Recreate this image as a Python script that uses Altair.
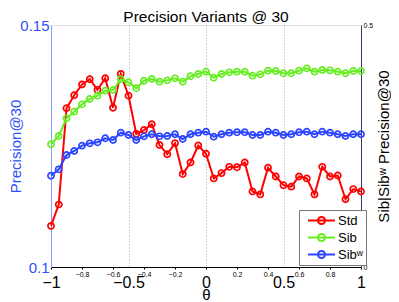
import altair as alt
import pandas as pd

theta = [-1.0, -0.95, -0.9, -0.85, -0.8, -0.75, -0.7, -0.65, -0.6, -0.55, -0.5,
         -0.45, -0.4, -0.35, -0.3, -0.25, -0.2, -0.15, -0.1, -0.05, 0.0,
         0.05, 0.1, 0.15, 0.2, 0.25, 0.3, 0.35, 0.4, 0.45, 0.5,
         0.55, 0.6, 0.65, 0.7, 0.75, 0.8, 0.85, 0.9, 0.95, 1.0]

std = [0.1085, 0.1129, 0.1328, 0.1355, 0.1377, 0.1388, 0.1366, 0.1390, 0.1329, 0.1399,
       0.1354, 0.1275, 0.1283, 0.1295, 0.1252, 0.1233, 0.1256, 0.1192, 0.1216, 0.1251,
       0.1234, 0.1183, 0.1194, 0.1207, 0.1206, 0.1216, 0.1156, 0.1150, 0.1205, 0.1187,
       0.1169, 0.1166, 0.1187, 0.1183, 0.1150, 0.1207, 0.1187, 0.1189, 0.1140, 0.1161,
       0.1156]

sib = [0.2535, 0.2707, 0.3072, 0.3209, 0.3361, 0.3471, 0.3540, 0.3643, 0.3657, 0.3878,
       0.3816, 0.3692, 0.3849, 0.3884, 0.3829, 0.3857, 0.3898, 0.3829, 0.3940, 0.3988,
       0.4036, 0.3912, 0.3988, 0.4022, 0.4036, 0.4036, 0.3953, 0.3981, 0.4056, 0.4050,
       0.4002, 0.4002, 0.4056, 0.4105, 0.4036, 0.4070, 0.4063, 0.4036, 0.4002, 0.4050,
       0.4050]

sibw = [0.1886, 0.2018, 0.2314, 0.2397, 0.2507, 0.2555, 0.2576, 0.2659, 0.2624, 0.2775,
        0.2727, 0.2624, 0.2700, 0.2742, 0.2700, 0.2707, 0.2742, 0.2645, 0.2742, 0.2775,
        0.2796, 0.2693, 0.2742, 0.2775, 0.2783, 0.2783, 0.2727, 0.2727, 0.2796, 0.2775,
        0.2727, 0.2742, 0.2783, 0.2796, 0.2742, 0.2796, 0.2775, 0.2742, 0.2707, 0.2742,
        0.2742]

series_names = ["Std", "Sib", "Sib\u02b7"]
series_colors = ["#ff0000", "#66ee22", "#2b44ff"]
major_ticks = [-1, -0.5, 0, 0.5, 1]
minor_ticks = [-1, -0.8, -0.6, -0.4, -0.2, 0, 0.2, 0.4, 0.6, 0.8, 1]
left_ticks = [0.1, 0.15]
right_ticks = [0, 0.5]

df_std = pd.DataFrame({"theta": theta, "value": std, "series": series_names[0]})
df_sib = pd.concat([
    pd.DataFrame({"theta": theta, "value": sib, "series": series_names[1]}),
    pd.DataFrame({"theta": theta, "value": sibw, "series": series_names[2]}),
])

FONT = "Liberation Sans"
BLUE = "#3050f8"

color = alt.Color(
    "series:N",
    scale=alt.Scale(domain=series_names, range=series_colors),
    legend=alt.Legend(
        title=None, orient="none", legendX=248, legendY=185,
        strokeColor="#777777", fillColor="white", padding=2, cornerRadius=0,
        symbolType="M-1.8,0L1.8,0M-0.47,0A0.47,0.47,0,1,1,0.47,0A0.47,0.47,0,1,1,-0.47,0",
        symbolSize=225, symbolStrokeWidth=2, symbolOffset=12, symbolFillColor="transparent",
        labelOffset=8, labelFontSize=13, labelFont=FONT, labelColor="black",
        rowPadding=0,
    ),
)

point_def = alt.OverlayMarkDef(filled=False, size=38, strokeWidth=1.7)

left = alt.Chart(df_std).mark_line(strokeWidth=2, point=point_def).encode(
    x=alt.X("theta:Q", scale=alt.Scale(domain=[-1, 1], nice=False),
            axis=alt.Axis(values=major_ticks, format="~g", labelFontSize=16, labelFont=FONT,
                          labelColor="black", labelFlush=False, labelOverlap=False,
                          labelPadding=7, ticks=False, domainColor="black",
                          grid=True, gridDash=[1, 2], gridColor="#aaaaaa",
                          title="\u03b8", titleFontSize=15, titleFont=FONT,
                          titleFontWeight="normal", titleColor="black",
                          titleBaseline="alphabetic", titleY=32)),
    y=alt.Y("value:Q", scale=alt.Scale(domain=[0.1, 0.15], nice=False, zero=False),
            axis=alt.Axis(values=left_ticks, format="~g", labelFontSize=15, labelFont=FONT,
                          labelColor=BLUE, ticks=False, labelPadding=2, grid=False,
                          domainColor="#8899ff", title="Precision@30", titleColor=BLUE,
                          titleFontSize=15, titleFont=FONT, titleFontWeight="normal",
                          titleBaseline="alphabetic", titleX=-31, titleAngle=270)),
    color=color,
)

right = alt.Chart(df_sib).mark_line(strokeWidth=2, point=point_def).encode(
    x=alt.X("theta:Q", scale=alt.Scale(domain=[-1, 1], nice=False),
            axis=alt.Axis(orient="bottom", values=minor_ticks, format="~g", labelFontSize=7,
                          labelFont=FONT, labelColor="black", labelFlush=False,
                          labelExpr="(abs(datum.value) > 0.95 || abs(datum.value) < 0.05) ? '' : datum.label",
                          labelOverlap=False, labelPadding=1, tickSize=2, tickColor="black",
                          labelBaseline="top", domain=False, grid=False, title=None)),
    y=alt.Y("value:Q", scale=alt.Scale(domain=[0, 0.5], nice=False),
            axis=alt.Axis(orient="right", values=right_ticks, format="~g", labelFontSize=7,
                          labelFont=FONT, labelColor="black", ticks=False, labelPadding=2,
                          grid=False, domainColor="#3a3a6a",
                          title="Sib|Sib\u02b7 Precision@30", titleColor="black",
                          titleFontSize=15, titleFont=FONT, titleFontWeight="normal",
                          titleBaseline="alphabetic", titleX=27, titleAngle=270)),
    color=color,
)

chart = alt.layer(left, right).resolve_scale(y="independent").resolve_axis(
    x="independent", y="independent"
).properties(
    width=310, height=242,
    autosize="none",
    padding={"left": 43, "top": 17, "right": 30, "bottom": 35},
    title=alt.TitleParams("Precision Variants @ 30", fontSize=15.5, font=FONT,
                          fontWeight="normal", color="black", frame="group",
                          anchor="middle", baseline="alphabetic", offset=-19),
).configure_view(stroke="#444444", strokeWidth=1).configure(font=FONT)

chart.save("out.html", embed_options={"renderer": "svg", "actions": False})
